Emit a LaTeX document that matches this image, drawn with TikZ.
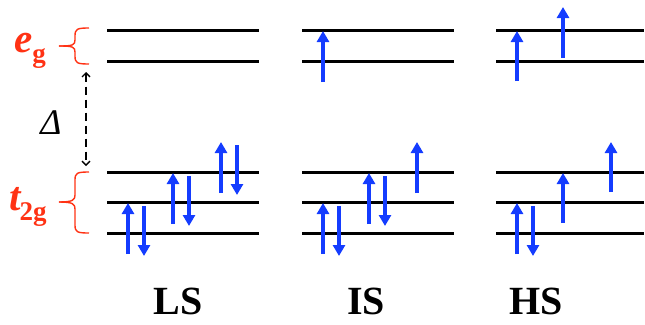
\documentclass[tikz,border=0pt]{standalone}
\usepackage{fontspec}
\setmainfont{Liberation Serif}
\usetikzlibrary{arrows.meta}
\definecolor{spinblue}{RGB}{20,60,255}
\definecolor{orbred}{RGB}{255,50,20}
\tikzset{
  level/.style={line width=3pt},
  spin/.style={spinblue, line width=4pt, -{Triangle[length=11pt,width=12pt]}},
  orbbrace/.style={orbred, line width=1.4pt},
  orblabel/.style={orbred, anchor=base west, inner sep=0pt, font=\fontsize{41}{41}\selectfont\bfseries},
  statelabel/.style={anchor=base, inner sep=0pt, font=\fontsize{40}{40}\selectfont\bfseries}
}
\begin{document}
\begin{tikzpicture}[x=1pt, y=-1pt]
        \useasboundingbox (0,0) rectangle (645,324);
        % Energy levels of the three spin states
        \foreach \name/\xa/\xb in {LS/107/259, IS/302/454, HS/496/644}{
            \foreach \lev/\y in {eg1/30.5, eg2/61, tg1/172, tg2/202.5, tg3/233}
                \draw[level] (\xa,\y) -- (\xb,\y);
        }
        % Braces and orbital labels
        \draw[orbbrace] (89,28) .. controls (77,28) and (75,29) .. (75,36) -- (75,40)
            .. controls (75,45) and (73,46) .. (59,46);
        \draw[orbbrace] (89,64) .. controls (77,64) and (75,63) .. (75,56) -- (75,52)
            .. controls (75,47) and (73,46) .. (59,46);
        \draw[orbbrace] (89,172) .. controls (77,172) and (75,173) .. (75,180) -- (75,195)
            .. controls (75,200) and (73,202) .. (59,202);
        \draw[orbbrace] (89,233) .. controls (77,233) and (75,232) .. (75,225) -- (75,209)
            .. controls (75,204) and (73,202) .. (59,202);
        \node[orblabel] (eg) at (14,52) {\itshape e\raisebox{-10pt}{\fontsize{27}{27}\selectfont\upshape g}};
        \node[orblabel] (tg) at (9,210) {\itshape t\kern-1pt\raisebox{-10pt}{\fontsize{27}{27}\selectfont\upshape 2g}};
        % Splitting
        \draw[line width=1.3pt, dash pattern=on 8pt off 5pt,
            {Straight Barb[length=4pt,width=8pt]}-{Straight Barb[length=4pt,width=8pt]}] (86,72) -- (86,166);
        \node[anchor=base, inner sep=0pt] (delta) at (51,134) {\fontsize{36}{36}\selectfont\itshape Δ};
        % Low spin
        \foreach \x/\y in {128/0, 173/-30, 221/-61}{
            \draw[spin] (\x,254+\y) -- (\x,203+\y);
            \draw[spin] (\x+16,206+\y) -- (\x+16,256+\y);
        }
        % Intermediate spin
        \draw[spin] (323,82) -- (323,31);
        \draw[spin] (323,254) -- (323,203);
        \draw[spin] (339,206) -- (339,256);
        \draw[spin] (369,224) -- (369,173);
        \draw[spin] (385,176) -- (385,226);
        \draw[spin] (417,193) -- (417,142);
        % High spin
        \draw[spin] (517,81) -- (517,31);
        \draw[spin] (563,58) -- (563,7);
        \draw[spin] (517,254) -- (517,203);
        \draw[spin] (533,206) -- (533,256);
        \draw[spin] (563,223) -- (563,173);
        \draw[spin] (611,192) -- (611,142);
        % State labels
        \node[statelabel] (LS) at (178,314) {LS};
        \node[statelabel] (IS) at (366,314) {IS};
        \node[statelabel] (HS) at (536,314) {HS};
\end{tikzpicture}
\end{document}
